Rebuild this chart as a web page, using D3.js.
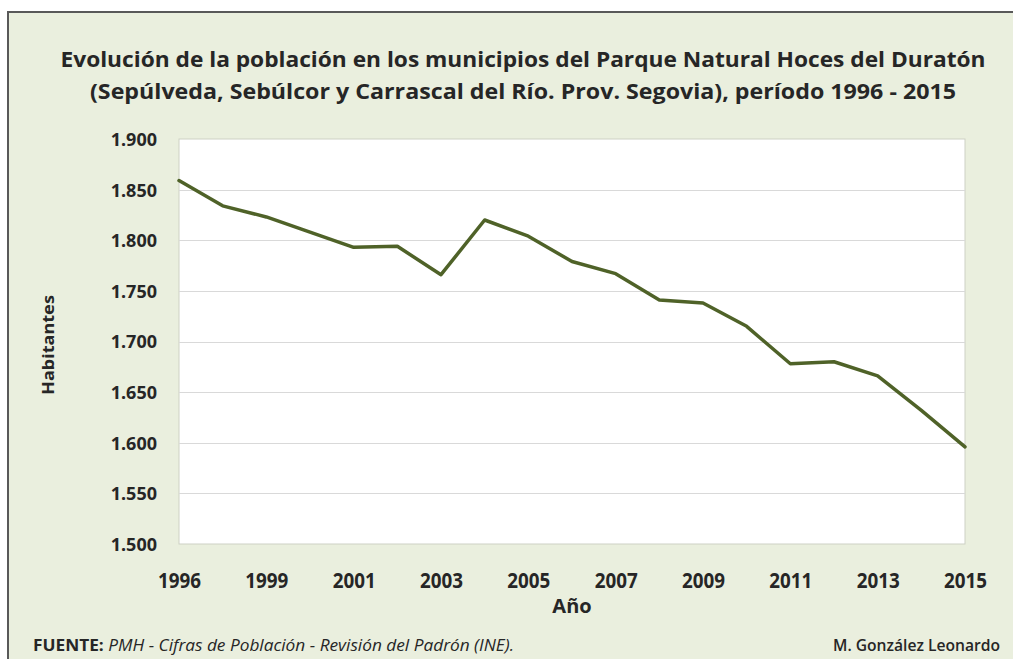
<!DOCTYPE html>
<html><head><meta charset="utf-8">
<script src="https://cdn.jsdelivr.net/npm/d3@7"></script>
<style>html,body{margin:0;padding:0;background:#fff;}svg{display:block;}</style>
</head><body>
<svg id="chart" width="1013" height="659"></svg>
<script>
// ---- data ----
const years = ["1996","1998","1999","2000","2001","2002","2003","2004","2005","2006","2007","2008","2009","2010","2011","2012","2013","2014","2015"];
const habitantes = [1859,1834,1823,1808,1793,1794,1766,1820,1804,1779,1767,1741,1738,1715,1678,1680,1666,1632,1596];
const xTickLabels = ["1996","1999","2001","2003","2005","2007","2009","2011","2013","2015"];
const yTicks = [1500,1550,1600,1650,1700,1750,1800,1850,1900];
const titleLines = [
  "Evolución de la población en los municipios del Parque Natural Hoces del Duratón",
  "(Sepúlveda, Sebúlcor y Carrascal del Río. Prov. Segovia), período 1996 - 2015"
];
const yTitle = "Habitantes";
const xTitle = "Año";
const sourceLabel = "FUENTE:";
const sourceText = " PMH - Cifras de Población - Revisión del Padrón (INE).";
const author = "M. González Leonardo";

// ---- layout ----
const W = 1013, H = 659;
const plot = {left: 179, right: 965, top: 139, bottom: 544};
const textColor = "#262626";
const svg = d3.select("#chart");

svg.append("rect").attr("x", 8).attr("y", 12).attr("width", W + 10).attr("height", H + 10)
  .attr("fill", "#EAEFDE").attr("stroke", "#595959").attr("stroke-width", 2);

// title
const titleWidths = [925, 866];
const titleBase = [67, 99];
titleLines.forEach((t, i) => {
  svg.append("text").attr("x", 523).attr("y", titleBase[i])
    .attr("text-anchor", "middle")
    .attr("font-family", "'Open Sans', sans-serif").attr("font-weight", 700)
    .attr("font-size", 22).attr("fill", textColor)
    .attr("textLength", titleWidths[i]).attr("lengthAdjust", "spacingAndGlyphs")
    .text(t);
});

// scales
const x = d3.scalePoint().domain(years).range([plot.left, plot.right]);
const y = d3.scaleLinear().domain([1500, 1900]).range([plot.bottom, plot.top]);

// plot area
svg.append("rect").attr("x", plot.left).attr("y", plot.top)
  .attr("width", plot.right - plot.left).attr("height", plot.bottom - plot.top)
  .attr("fill", "#fff").attr("stroke", "#CDD1C4").attr("stroke-width", 1);

// gridlines
svg.append("g").selectAll("line").data(yTicks.filter(v => v > 1500 && v < 1900)).join("line")
  .attr("x1", plot.left).attr("x2", plot.right)
  .attr("y1", d => Math.round(y(d)) + 0.5).attr("y2", d => Math.round(y(d)) + 0.5)
  .attr("stroke", "#D9D9D9").attr("stroke-width", 1);

// y axis
const es = d3.formatLocale({decimal: ",", thousands: ".", grouping: [3], currency: ["", " €"]});
const yAxis = svg.append("g").attr("transform", `translate(${plot.left},0)`)
  .call(d3.axisLeft(y).tickValues(yTicks).tickSize(0).tickPadding(22).tickFormat(es.format(",")));
yAxis.select(".domain").remove();
yAxis.selectAll("text")
  .attr("font-family", "'Noto Sans', sans-serif").attr("font-weight", 700)
  .attr("font-size", 18).attr("fill", textColor).attr("dy", "0.36em");

// x axis
const xAxis = svg.append("g").attr("transform", `translate(0,${plot.bottom})`)
  .call(d3.axisBottom(x).tickValues(xTickLabels).tickSize(0).tickPadding(0));
xAxis.select(".domain").remove();
xAxis.selectAll("text")
  .attr("font-family", "'Open Sans', sans-serif").attr("font-weight", 700)
  .attr("font-size", 21).attr("fill", textColor)
  .attr("dy", null).attr("y", 44)
  .attr("textLength", 43).attr("lengthAdjust", "spacingAndGlyphs");

// axis titles
svg.append("text").attr("transform", "translate(54,345) rotate(-90)")
  .attr("text-anchor", "middle")
  .attr("font-family", "'Noto Sans', sans-serif").attr("font-weight", 700)
  .attr("font-size", 16).attr("fill", textColor)
  .attr("textLength", 100).attr("lengthAdjust", "spacingAndGlyphs")
  .text(yTitle);
svg.append("text").attr("x", (plot.left + plot.right) / 2).attr("y", 613)
  .attr("text-anchor", "middle")
  .attr("font-family", "'Open Sans', sans-serif").attr("font-weight", 700)
  .attr("font-size", 20).attr("fill", textColor)
  .text(xTitle);

// line
const line = d3.line().x((d, i) => x(years[i])).y(d => y(d));
svg.append("path").datum(habitantes)
  .attr("d", line).attr("fill", "none")
  .attr("stroke", "#4F6228").attr("stroke-width", 3.5)
  .attr("stroke-linejoin", "round").attr("stroke-linecap", "round");

// footer
const src = svg.append("text").attr("x", 33).attr("y", 651)
  .attr("font-family", "'Open Sans', sans-serif").attr("font-size", 16).attr("fill", textColor)
  .attr("textLength", 481).attr("lengthAdjust", "spacingAndGlyphs");
src.append("tspan").attr("font-weight", 700).text(sourceLabel);
src.append("tspan").attr("font-style", "italic").text(sourceText);
svg.append("text").attr("x", 1000).attr("y", 651).attr("text-anchor", "end")
  .attr("font-family", "'Open Sans', sans-serif").attr("font-weight", 600)
  .attr("font-size", 16).attr("fill", textColor)
  .attr("textLength", 167).attr("lengthAdjust", "spacingAndGlyphs")
  .text(author);
</script>
</body></html>
